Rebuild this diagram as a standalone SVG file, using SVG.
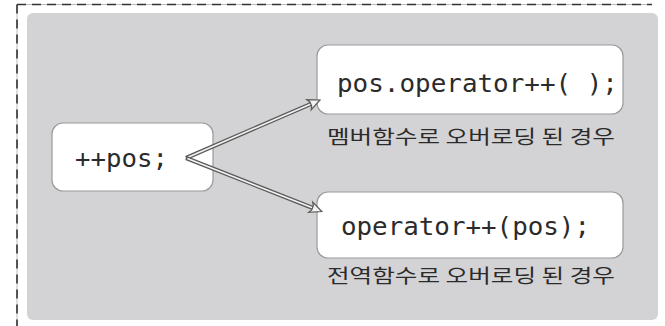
<svg xmlns="http://www.w3.org/2000/svg" width="665" height="326" viewBox="0 0 665 326">
<defs>
<style>
.frame{stroke:#333;stroke-width:1.6;stroke-dasharray:9 6;fill:none}
.frame2{stroke:#aaa;stroke-width:0.8;fill:none}
.box{fill:#fff;stroke:#9a9a9a;stroke-width:1.2}
.code{font-family:"DejaVu Sans Mono","Liberation Mono",monospace;font-size:25px;fill:#2b2b2b}
.ko{font-family:"Noto Sans CJK KR","Noto Sans",sans-serif;font-size:19px;fill:#2b2b2b}
.shaft{stroke:#5a5a5a;stroke-width:4.2;fill:none}
.shaftin{stroke:#f2f2f2;stroke-width:1.6;fill:none}
.head{fill:#f2f2f2;stroke:#5a5a5a;stroke-width:1.2;stroke-linejoin:miter}
</style>
<g id="arrowShape">
<line class="shaft" x1="0" y1="0" x2="137" y2="0"/>
<line class="shaftin" x1="1.5" y1="0" x2="138" y2="0"/>
<polygon class="head" points="136,-2.2 134,-5.5 146,0 134,5.5 136,2.2"/>
</g>
</defs>
<rect width="665" height="326" fill="#fff"/>
<g id="frame">
<line class="frame2" x1="17" y1="4.5" x2="652" y2="4.5"/>
<line class="frame2" x1="17" y1="4.5" x2="17" y2="326"/>
<line class="frame" x1="17" y1="4.5" x2="652" y2="4.5"/>
<line class="frame" x1="17" y1="4.5" x2="17" y2="326"/>
</g>
<rect id="panel" x="27" y="13" width="631" height="307" rx="6" fill="#d3d3d5"/>
<g id="node-pos">
<rect class="box" x="52" y="123" width="161" height="68" rx="11"/>
<text class="code" x="75" y="167" textLength="93" lengthAdjust="spacingAndGlyphs">++pos;</text>
</g>
<g id="node-member">
<rect class="box" x="317" y="45" width="306" height="69" rx="11"/>
<text class="code" x="337" y="92" textLength="281" lengthAdjust="spacingAndGlyphs">pos.operator++( );</text>
<text class="ko" x="327" y="144" textLength="288" lengthAdjust="spacingAndGlyphs">멤버함수로 오버로딩 된 경우</text>
</g>
<g id="node-global">
<rect class="box" x="317" y="192" width="306" height="66" rx="11"/>
<text class="code" x="341" y="235" textLength="249" lengthAdjust="spacingAndGlyphs">operator++(pos);</text>
<text class="ko" x="327" y="283" textLength="288" lengthAdjust="spacingAndGlyphs">전역함수로 오버로딩 된 경우</text>
</g>
<g id="connectors">
<use href="#arrowShape" transform="translate(186,158) rotate(-23.4)"/>
<use href="#arrowShape" transform="translate(186,158) rotate(21.5)"/>
</g>
</svg>
